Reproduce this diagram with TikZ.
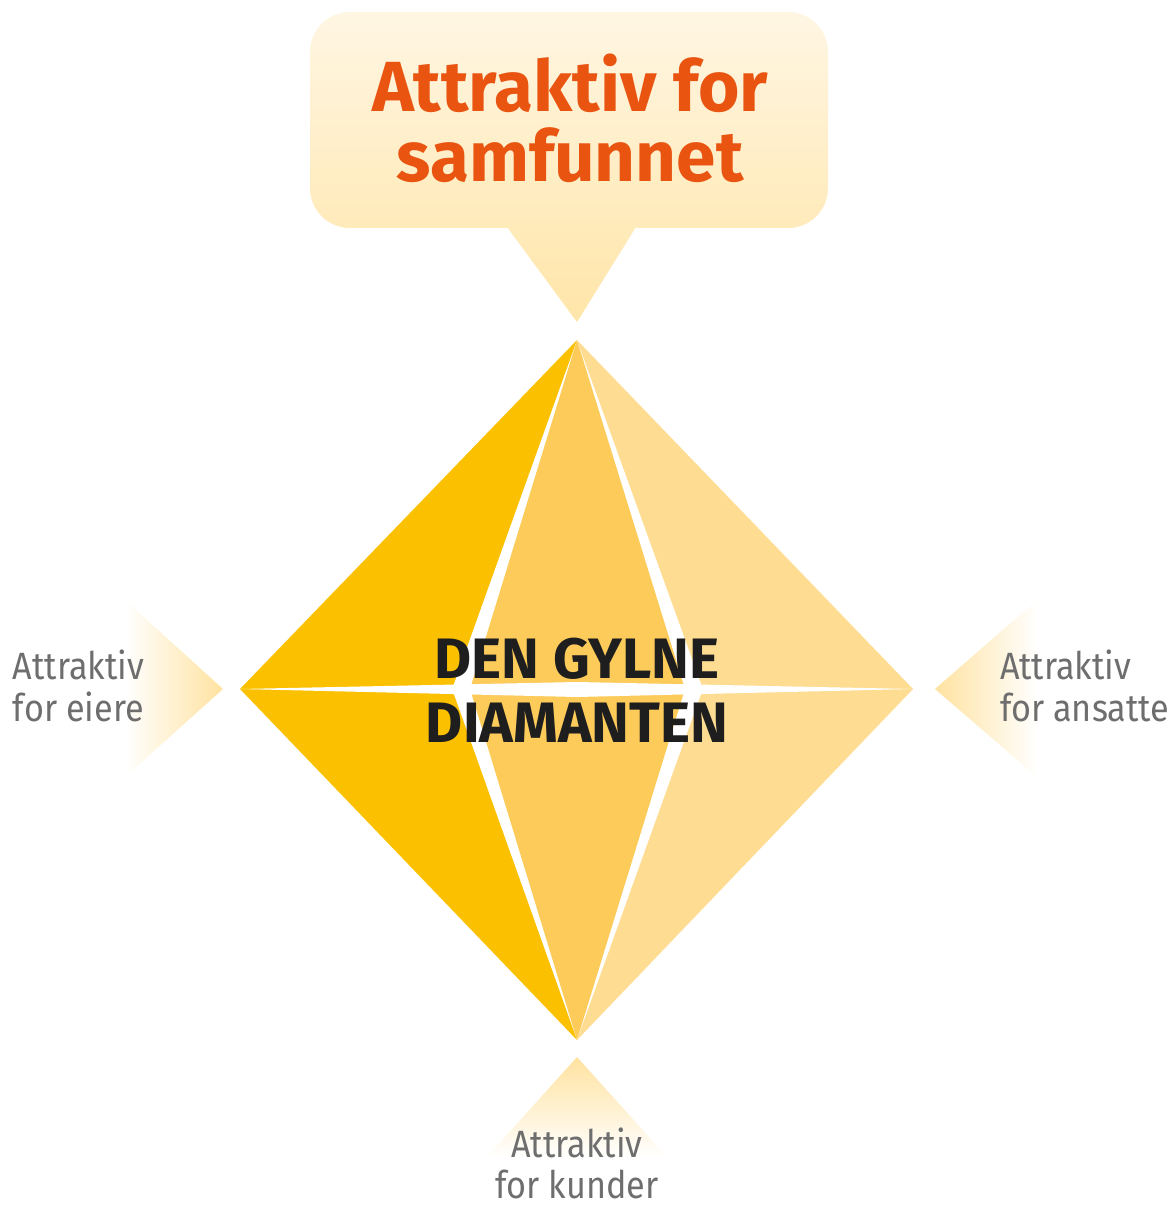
\documentclass[tikz,border=0pt]{standalone}
\usepackage{fontspec}
\setmainfont{Fira Sans}
\newfontfamily\labelfont[FakeStretch=0.9]{Fira Sans}
\usepackage{xcolor}
\definecolor{goldA}{HTML}{FBC100}
\definecolor{goldB}{HTML}{FDCB5A}
\definecolor{goldC}{HTML}{FEDC92}
\definecolor{glow}{HTML}{FFE2A0}
\definecolor{bubbletop}{HTML}{FFF6E3}
\definecolor{bubblebot}{HTML}{FFE5A8}
\definecolor{titleorange}{HTML}{E95411}
\definecolor{labelgray}{HTML}{6E6E6E}
\definecolor{textdark}{HTML}{1E1E1E}

\begin{document}
\begin{tikzpicture}[x=1pt,y=-1pt]
	\useasboundingbox (0,0) rectangle (1169,1206);
	\tikzstyle{every node}=[inner sep=0pt, outer sep=0pt]
	\tikzstyle{sidelabel}=[font=\labelfont\fontsize{38}{42}\selectfont, text=labelgray]
	% speech bubble on top
	\shade[top color=bubbletop, bottom color=bubblebot] (310,12) [rounded corners=40pt] rectangle (828,228) [sharp corners] (507,227) -- (577,322) -- (636,227) -- cycle;
	\draw (570,54) node[anchor=north, text=titleorange, font=\bfseries\fontsize{71}{70}\selectfont, align=center] (society) {Attraktiv for\\samfunnet};
	% side pointers
	\shade[left color=white, right color=glow] (125,600) -- (223,689) -- (125,777) -- cycle;
	\shade[left color=glow, right color=white] (1037,600) -- (935,689) -- (1037,777) -- cycle;
	\shade[top color=glow, bottom color=white] (577,1057) -- (667,1157) -- (487,1157) -- cycle;
	% the diamond
	\coordinate (top) at (577,340);
	\coordinate (bot) at (577,1040);
	\coordinate (west) at (240,689);
	\coordinate (east) at (913,689);
	\fill[goldA] (top) -- (west) -- (bot) -- (452,689) -- cycle;
	\fill[goldC] (top) -- (east) -- (bot) -- (703,689) -- cycle;
	\fill[goldB] (top) -- (470,689) -- (bot) -- (685,689) -- cycle;
	\fill[white] (west) -- (577,682) -- (east) -- (577,697) -- cycle;
	\draw (577,690) node[text=textdark, font=\bfseries\fontsize{57}{64}\selectfont, align=center] (diamond) {DEN GYLNE\\DIAMANTEN};
	% labels
	\draw (144,650) node[sidelabel, anchor=north east, align=right] (owners) {Attraktiv\\for eiere};
	\draw (1000,650) node[sidelabel, anchor=north west, align=left] (staff) {Attraktiv\\for ansatte};
	\draw (577,1128) node[sidelabel, anchor=north, align=center, font=\labelfont\fontsize{38}{41}\selectfont] (customers) {Attraktiv\\for kunder};
\end{tikzpicture}
\end{document}
